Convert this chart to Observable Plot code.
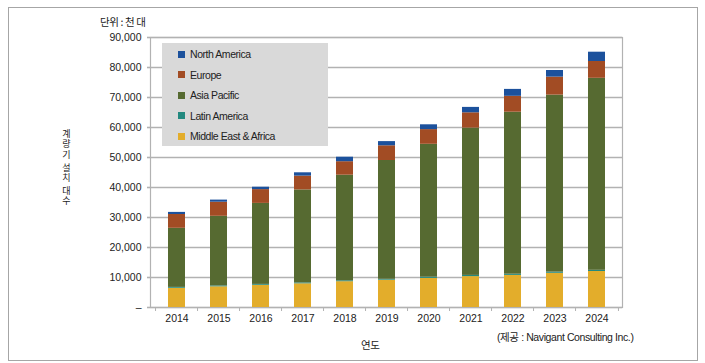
<!DOCTYPE html>
<html>
<head>
<meta charset="utf-8">
<script src="https://cdn.jsdelivr.net/npm/d3@7"></script>
<script src="https://cdn.jsdelivr.net/npm/@observablehq/plot@0.6"></script>
<style>
  html, body { margin: 0; padding: 0; background: #fff; }
  #wrap { position: relative; width: 705px; height: 363px; overflow: hidden;
    font-family: "Liberation Sans", Arial, "Noto Sans CJK KR", sans-serif; color: #222; }
  #wrap svg { position: absolute; left: 0; top: 0; }
  .frame { position: absolute; left: 8px; top: 7px; width: 688px; height: 352px; border: 1px solid #a6a6a6; box-sizing: content-box; pointer-events: none; }
  .txt { position: absolute; font-size: 10.5px; letter-spacing: -0.4px; white-space: nowrap; line-height: 1; }
  .ko { font-family: "Noto Sans CJK KR", sans-serif; }
  #legend { position: absolute; left: 162px; top: 43px; width: 166px; height: 103px; background: #d9d9d9; }
  #legend .item { position: absolute; left: 16px; height: 12px; display: flex; align-items: center; font-size: 10.5px; letter-spacing: -0.45px; }
  #legend .sw { width: 7px; height: 7px; margin-right: 5px; }
  .yword { position: absolute; left: 61px; writing-mode: vertical-rl; text-orientation: upright; font-size: 9px; line-height: 10px; letter-spacing: 1.5px; white-space: nowrap; color: #222; font-family: "Noto Sans CJK KR", sans-serif; }
</style>
</head>
<body>
<div id="wrap"></div>
<script>
const years = ["2014","2015","2016","2017","2018","2019","2020","2021","2022","2023","2024"];
const seriesNames = ["Middle East & Africa","Latin America","Asia Pacific","Europe","North America"];
const seriesColors = ["#e3ad2b","#23897f","#566a31","#a24c24","#1c519c"];
const middleEastAfrica = [6400,6900,7400,7900,8600,9100,9700,10300,10700,11400,12000];
const latinAmerica     = [300,300,300,300,300,300,400,400,400,400,400];
const asiaPacific      = [19700,23200,27000,31000,35200,39600,44300,49100,54000,59000,64000];
const europe           = [4600,4700,4600,4600,4500,4900,4900,5100,5300,6000,5600];
const northAmerica     = [700,700,800,1100,1500,1400,1600,1800,2300,2200,3100];
const yTicks = [0,10000,20000,30000,40000,50000,60000,70000,80000,90000];
const legendOrder = ["North America","Europe","Asia Pacific","Latin America","Middle East & Africa"];
const yTitleWords = ["계량기","설치","대수"];

const seriesValues = [middleEastAfrica, latinAmerica, asiaPacific, europe, northAmerica];
const data = [];
years.forEach((yr, i) => {
  seriesNames.forEach((s, j) => data.push({year: yr, series: s, value: seriesValues[j][i]}));
});

const W = 705, H = 363, mL = 150, mR = 83, mT = 37, mB = 56;
const step = (W - mL - mR) / years.length;
const gray = "#b2b2b2";

const chart = Plot.plot({
  width: W, height: H,
  marginLeft: mL, marginRight: mR, marginTop: mT, marginBottom: mB,
  style: {fontFamily: '"Liberation Sans", Arial, "Noto Sans CJK KR", sans-serif', fontSize: "10.5px", color: "#222", background: "transparent"},
  x: {type: "band", domain: years, paddingInner: 0.6, paddingOuter: 0.3, label: null},
  y: {domain: [0, 90000], label: null},
  color: {domain: seriesNames, range: seriesColors},
  marks: [
    Plot.gridY(yTicks, {stroke: gray, strokeOpacity: 1, strokeWidth: 1.6}),
    Plot.axisY(yTicks, {tickSize: 3, tickPadding: 6, stroke: gray, strokeWidth: 1.6,
      tickFormat: d => d === 0 ? "–" : d3.format(",")(d), label: null, fontSize: 10.5}),
    Plot.frame({stroke: gray, strokeWidth: 1.2}),
    Plot.barY(data, {x: "year", y: "value", fill: "series"}),
    Plot.ruleX(years, {x: d => d, dx: -step / 2, y1: 0, y2: 0, insetBottom: -4, stroke: gray}),
    Plot.ruleX(years.slice(-1), {x: d => d, dx: step / 2, y1: 0, y2: 0, insetBottom: -4, stroke: gray}),
    Plot.axisX({tickSize: 0, tickPadding: 7, label: null, fontSize: 10.5})
  ]
});

const wrap = document.getElementById("wrap");
wrap.appendChild(chart);

function addText(text, left, top, cls) {
  const d = document.createElement("div");
  d.className = "txt " + (cls || "");
  d.textContent = text;
  d.style.left = left + "px";
  d.style.top = top + "px";
  wrap.appendChild(d);
  return d;
}
addText("단위 : 천 대", 100, 17, "ko");
addText("연도", 361, 340, "ko");
addText("(제공 : Navigant Consulting Inc.)", 497, 332);

// vertical y-axis title: one vertical text per word
const wordTops = [129, 163, 186];
yTitleWords.forEach((w, k) => {
  const d = document.createElement("div");
  d.className = "yword";
  d.style.top = wordTops[k] + "px";
  d.textContent = w;
  wrap.appendChild(d);
});

const lg = document.createElement("div");
lg.id = "legend";
legendOrder.forEach((name, k) => {
  const it = document.createElement("div");
  it.className = "item";
  it.style.top = (5 + k * 20.6) + "px";
  const sw = document.createElement("span");
  sw.className = "sw";
  sw.style.background = seriesColors[seriesNames.indexOf(name)];
  const tx = document.createElement("span");
  tx.textContent = name;
  it.appendChild(sw); it.appendChild(tx);
  lg.appendChild(it);
});
wrap.appendChild(lg);

const fr = document.createElement("div");
fr.className = "frame";
wrap.appendChild(fr);
</script>
</body>
</html>
